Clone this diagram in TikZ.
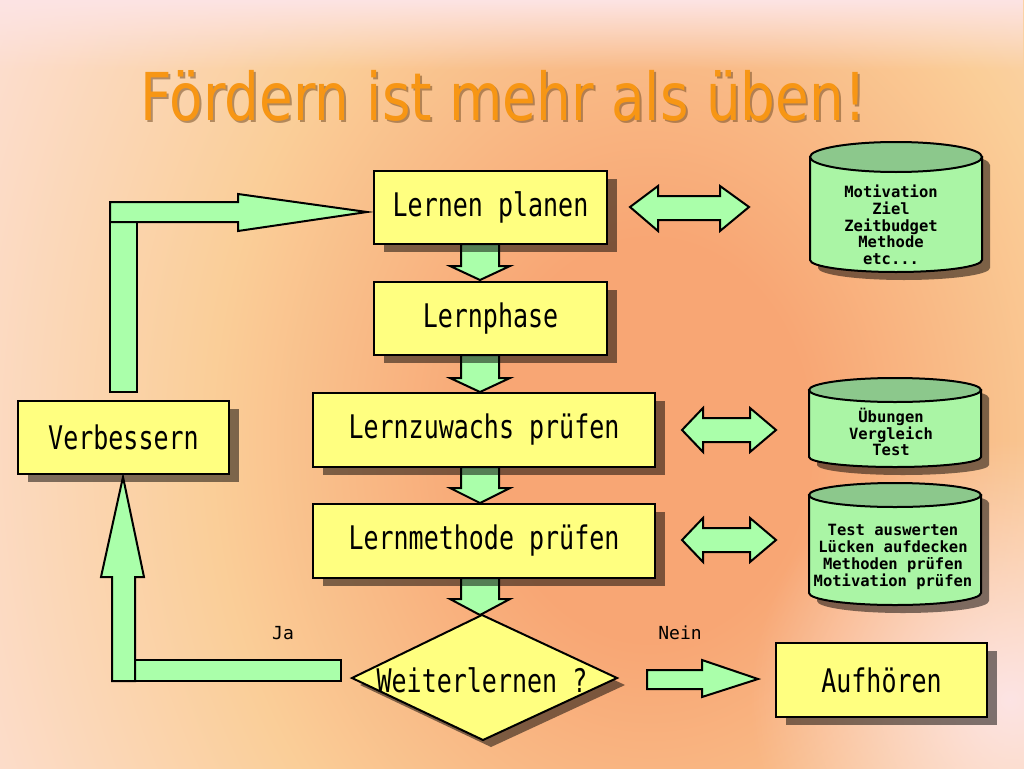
\documentclass[tikz,border=0pt]{standalone}
\usepackage{fontspec}
\usepackage{graphicx}
\setmainfont{DejaVu Sans}
\newfontfamily\pixf{DejaVu Sans Mono}
\usetikzlibrary{shadows,calc,fadings}
\tikzfading[name=pinkglow, inner color=transparent!0, outer color=transparent!100]
\tikzfading[name=pinktop, top color=transparent!0, bottom color=transparent!100]
\definecolor{boxyellow}{RGB}{255,255,128}
\definecolor{arrowgreen}{RGB}{170,255,170}
\definecolor{cylgreen}{RGB}{170,245,165}
\definecolor{cyltop}{RGB}{140,200,140}
\definecolor{titleorange}{RGB}{247,150,20}
\definecolor{titleshadow}{RGB}{120,80,40}
\definecolor{bgsalmon}{RGB}{248,166,116}
\definecolor{bgpeach}{RGB}{250,206,152}
\definecolor{bgpink}{RGB}{253,228,228}
\pgfdeclareradialshading{bgshade}{\pgfpoint{0bp}{0bp}}{color(0bp)=(bgsalmon); color(4bp)=(bgsalmon); color(11bp)=(bgpeach); color(21bp)=(bgpink); color(50bp)=(bgpink)}
\newcommand\bxt[1]{\scalebox{1}[1.3]{#1}}
\newcommand\cylinderdb[6]{%
  \fill[cylshadow] (#1-#2+8,#3+8) -- (#1-#2+8,#5+8) arc[start angle=180,end angle=0,x radius=#2,y radius=#6] -- (#1+#2+8,#3+8) arc[start angle=0,end angle=-180,x radius=#2,y radius=#4] -- cycle;
  \filldraw[cylbody] (#1-#2,#3) -- (#1-#2,#5) arc[start angle=180,end angle=0,x radius=#2,y radius=#6] -- (#1+#2,#3) -- cycle;
  \filldraw[cyltopface] (#1,#3) ellipse[x radius=#2,y radius=#4];
}
\newcommand\downarr[3]{%
  \filldraw[blockarrow] (461,#1) -- (499,#1) -- (499,#2) -- (510,#2) -- (480,#3) -- (450,#2) -- (461,#2) -- cycle;
}
\newcommand\dblarr[1]{%
  \filldraw[blockarrow] (682,#1) -- (703,#1-22) -- (703,#1-12) -- (750,#1-12) -- (750,#1-22) -- (776,#1) -- (750,#1+22) -- (750,#1+12) -- (703,#1+12) -- (703,#1+22) -- cycle;
}
\tikzset{
  line/.style={line width=2pt, draw=black},
  flowbox/.style={rectangle, fill=boxyellow, line, inner sep=0pt,
    font=\pixf\fontsize{25}{30}\selectfont,
    drop shadow={shadow xshift=10pt, shadow yshift=-8pt, fill=black, opacity=0.5}},
  blockarrow/.style={fill=arrowgreen, line, line join=miter},
  cylbody/.style={fill=cylgreen, line},
  cyltopface/.style={fill=cyltop, line},
  cylshadow/.style={fill=black, opacity=0.5},
  cyltext/.style={align=center, font=\pixf\bfseries\fontsize{15.5}{16.7}\selectfont, inner sep=0pt},
  lbl/.style={font=\pixf\fontsize{18}{20}\selectfont, inner sep=0pt},
  titletext/.style={anchor=base west, inner sep=0pt, font=\fontsize{66}{70}\selectfont},
}
\begin{document}
\begin{tikzpicture}[x=1pt,y=-1pt]
\useasboundingbox (0,0) rectangle (1024,768);
% background
\begin{scope}
  \clip (0,0) rectangle (1024,768);
  \fill[bgpink] (0,0) rectangle (1024,768);
  \shade[shading=bgshade] (650,440) ellipse[x radius=1000, y radius=1250];
  \fill[bgpink, path fading=pinkglow] (1010,700) circle (260);
  \fill[bgpink, path fading=pinktop] (0,0) rectangle (1024,70);
\end{scope}
% title
\node[titletext, text=titleshadow, opacity=0.55] (titleshd) at (142,122) {\scalebox{0.83}[1]{Fördern ist mehr als üben!}};
\node[titletext, text=titleorange] (title) at (140,120) {\scalebox{0.83}[1]{Fördern ist mehr als üben!}};

% block arrows (drawn below the boxes)
\downarr{244}{266}{280}
\downarr{355}{378}{392}
\downarr{467}{488}{503}
\downarr{578}{599}{615}

% top double arrow
\filldraw[blockarrow] (630,207) -- (658,186) -- (658,196) -- (720,196) -- (720,186) -- (749,207) -- (720,231) -- (720,220) -- (658,220) -- (658,231) -- cycle;
\dblarr{430}
\dblarr{540}

% loop arrow from Verbessern to Lernen planen
\filldraw[blockarrow] (110,222) rectangle (137,392);
\filldraw[blockarrow] (110,202) -- (238,202) -- (238,194) -- (367,212) -- (238,231) -- (238,222) -- (110,222) -- cycle;

% Ja arrow from decision to Verbessern
\filldraw[blockarrow] (135,660) rectangle (341,681);
\filldraw[blockarrow] (112,681) -- (112,577) -- (101,577) -- (123,477) -- (144,577) -- (135,577) -- (135,681) -- cycle;

% Nein arrow
\filldraw[blockarrow] (647,670) -- (702,670) -- (702,660) -- (758,679) -- (702,697) -- (702,689) -- (647,689) -- cycle;

% flow boxes
\node[flowbox, minimum width=233pt, minimum height=73pt] (plan) at (490.5,207.5) {\bxt{Lernen planen}};
\node[flowbox, minimum width=233pt, minimum height=73pt] (phase) at (490.5,318.5) {\bxt{Lernphase}};
\node[flowbox, minimum width=342pt, minimum height=74pt] (zuwachs) at (484,430) {\bxt{Lernzuwachs prüfen}};
\node[flowbox, minimum width=342pt, minimum height=74pt] (methode) at (484,541) {\bxt{Lernmethode prüfen}};
\node[flowbox, minimum width=211pt, minimum height=73pt] (verb) at (123.5,437.5) {\bxt{Verbessern}};
\node[flowbox, minimum width=211pt, minimum height=74pt] (auf) at (881.5,680) {\bxt{Aufhören}};

% decision diamond
\filldraw[fill=boxyellow, line, line join=miter, drop shadow={shadow xshift=8pt, shadow yshift=-7pt, fill=black, opacity=0.5}] (482,615) -- (617,678) -- (483,740) -- (352,678) -- cycle;
\node[font=\pixf\fontsize{25}{30}\selectfont, inner sep=0pt] (weiter) at (482,680) {\bxt{Weiterlernen ?}};

% cylinders
\cylinderdb{896}{86}{157}{15}{260}{12}
\cylinderdb{895}{86}{390}{12}{457}{10}
\cylinderdb{895}{86}{495}{12}{593}{12}
\node[cyltext] (db1) at (891,225) {Motivation\\Ziel\\Zeitbudget\\Methode\\etc...};
\node[cyltext] (db2) at (891,432) {Übungen\\Vergleich\\Test};
\node[cyltext] (db3) at (893,557) {Test auswerten\\Lücken aufdecken\\Methoden prüfen\\Motivation prüfen};

% labels
\node[lbl] (ja) at (283,633) {Ja};
\node[lbl] (nein) at (680,633) {Nein};
\end{tikzpicture}
\end{document}
